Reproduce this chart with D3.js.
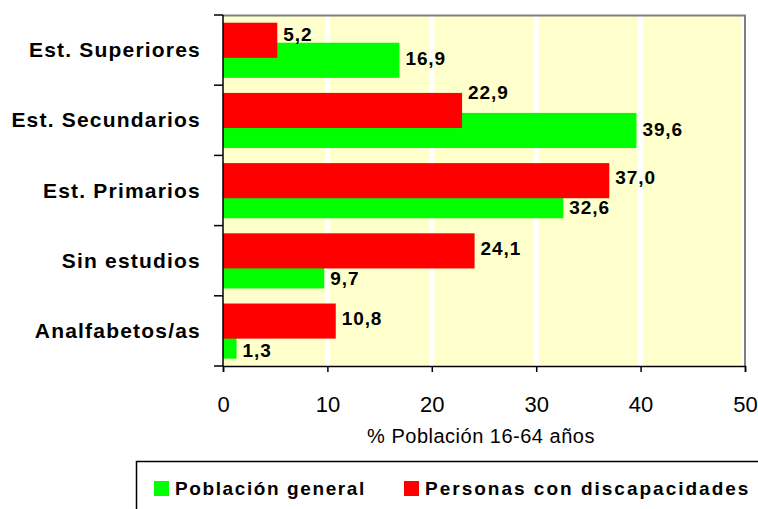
<!DOCTYPE html>
<html>
<head>
<meta charset="utf-8">
<script src="https://cdn.jsdelivr.net/npm/d3@7"></script>
<style>
  html, body { margin: 0; padding: 0; background: #ffffff; }
  svg { display: block; font-family: "Liberation Sans", Arial, sans-serif; }
</style>
</head>
<body>
<svg id="chart" width="758" height="509"></svg>
<script>
// ---- data ----
const categories = ["Est. Superiores", "Est. Secundarios", "Est. Primarios", "Sin estudios", "Analfabetos/as"];
const poblacionGeneral = [16.9, 39.6, 32.6, 9.7, 1.3];
const personasDiscapacidad = [5.2, 22.9, 37.0, 24.1, 10.8];
const xTicks = [0, 10, 20, 30, 40, 50];
const seriesNames = ["Población general", "Personas con discapacidades"];
const axisTitle = "% Población 16-64 años";

// ---- layout ----
const svg = d3.select("#chart");
const pL = 223, pR = 745, pT = 15, pB = 366;
const x = d3.scaleLinear().domain([0, 50]).range([pL, pR]);
const y = d3.scaleBand().domain(categories).range([pT, pB]).padding(0);
const bw = y.bandwidth();
const barH = bw * 0.5;
const redOff = bw * 0.11, greenOff = bw * 0.395;
const fmt = v => d3.format(".1f")(v).replace(".", ",");

// label vertical nudges (cap-centre relative to bar centre), as in the reference
const redDy = [-6, -18, -3, -3, -3];
const greenDy = [-2, -1, 7, 7, 9];

// plot background
svg.append("rect").attr("x", pL).attr("y", pT + 1).attr("width", pR - pL - 3).attr("height", pB - pT - 1)
  .attr("fill", "#FFFFCC");
// white grid bands
svg.append("g").selectAll("line").data(xTicks.slice(1, -1)).join("line")
  .attr("x1", d => x(d)).attr("x2", d => x(d))
  .attr("y1", pT).attr("y2", pB)
  .attr("stroke", "#ffffff").attr("stroke-width", 5);
// frame: top and right gray borders
svg.append("line").attr("x1", pL).attr("x2", pR + 1).attr("y1", pT + 0.5).attr("y2", pT + 0.5)
  .attr("stroke", "#808080").attr("stroke-width", 2);
svg.append("line").attr("x1", pR).attr("x2", pR).attr("y1", pT).attr("y2", pB)
  .attr("stroke", "#808080").attr("stroke-width", 2);

// bars: green first, red on top
const gBars = svg.append("g");
gBars.selectAll("rect.g").data(categories).join("rect").attr("class", "g")
  .attr("x", x(0)).attr("y", d => y(d) + greenOff)
  .attr("width", (d, i) => x(poblacionGeneral[i]) - x(0)).attr("height", barH)
  .attr("fill", "#00FF00");
gBars.selectAll("rect.r").data(categories).join("rect").attr("class", "r")
  .attr("x", x(0)).attr("y", d => y(d) + redOff)
  .attr("width", (d, i) => x(personasDiscapacidad[i]) - x(0)).attr("height", barH)
  .attr("fill", "#FF0000");

// value labels
const lblStyle = sel => sel.attr("font-size", 19).attr("font-weight", "bold").attr("letter-spacing", 0.9).attr("fill", "#000");
const capHalf = 6.8;
svg.append("g").selectAll("text.r").data(categories).join("text").attr("class", "r")
  .attr("x", (d, i) => x(personasDiscapacidad[i]) + 6)
  .attr("y", (d, i) => y(d) + redOff + barH / 2 + redDy[i] + capHalf)
  .text((d, i) => fmt(personasDiscapacidad[i])).call(lblStyle);
svg.append("g").selectAll("text.g").data(categories).join("text").attr("class", "g")
  .attr("x", (d, i) => x(poblacionGeneral[i]) + 6)
  .attr("y", (d, i) => y(d) + greenOff + barH / 2 + greenDy[i] + capHalf)
  .text((d, i) => fmt(poblacionGeneral[i])).call(lblStyle);

// y axis
const yAxisG = svg.append("g");
yAxisG.append("line").attr("x1", pL).attr("x2", pL).attr("y1", pT).attr("y2", pB)
  .attr("stroke", "#000").attr("stroke-width", 1.5);
const yBounds = categories.map(c => y(c)).concat([pB]);
yAxisG.selectAll("line.t").data(yBounds).join("line").attr("class", "t")
  .attr("x1", pL - 9).attr("x2", pL).attr("y1", d => d).attr("y2", d => d)
  .attr("stroke", "#000").attr("stroke-width", 1.5);
yAxisG.selectAll("text").data(categories).join("text")
  .attr("x", 201).attr("y", d => y(d) + bw / 2 + 7)
  .attr("text-anchor", "end").attr("font-size", 21).attr("font-weight", "bold")
  .attr("letter-spacing", 1.2).attr("fill", "#000").text(d => d);

// x axis
const xAxis = d3.axisBottom(x).tickValues(xTicks).tickSize(6).tickPadding(0).tickFormat(d3.format("d"));
const xg = svg.append("g").attr("transform", `translate(0,${pB})`).call(xAxis);
xg.select(".domain").attr("stroke", "#000").attr("stroke-width", 1.5);
xg.selectAll(".tick line").attr("stroke", "#000").attr("stroke-width", 1.5);
xg.selectAll(".tick text").attr("font-size", 22).attr("fill", "#000")
  .attr("font-family", "Liberation Sans, Arial, sans-serif").attr("dy", null).attr("y", 46);

svg.append("text").attr("x", (x(0) + x(50)) / 2 - 3).attr("y", 443)
  .attr("text-anchor", "middle").attr("font-size", 20).attr("letter-spacing", 0.5)
  .attr("fill", "#000").text(axisTitle);

// legend
const lg = svg.append("g");
lg.append("rect").attr("x", 136.5).attr("y", 461.5).attr("width", 700).attr("height", 100)
  .attr("fill", "#fff").attr("stroke", "#000").attr("stroke-width", 1.5);
const legendItems = [
  { name: seriesNames[0], color: "#00FF00", sx: 154, tx: 175 },
  { name: seriesNames[1], color: "#FF0000", sx: 404, tx: 425 }
];
lg.selectAll("rect.sw").data(legendItems).join("rect").attr("class", "sw")
  .attr("x", d => d.sx).attr("y", 481).attr("width", 15).attr("height", 15).attr("fill", d => d.color);
lg.selectAll("text").data(legendItems).join("text")
  .attr("x", d => d.tx).attr("y", 495).attr("font-size", 19).attr("font-weight", "bold")
  .attr("letter-spacing", d => d === legendItems[0] ? 1.6 : 2.0).attr("fill", "#000").text(d => d.name);
</script>
</body>
</html>
